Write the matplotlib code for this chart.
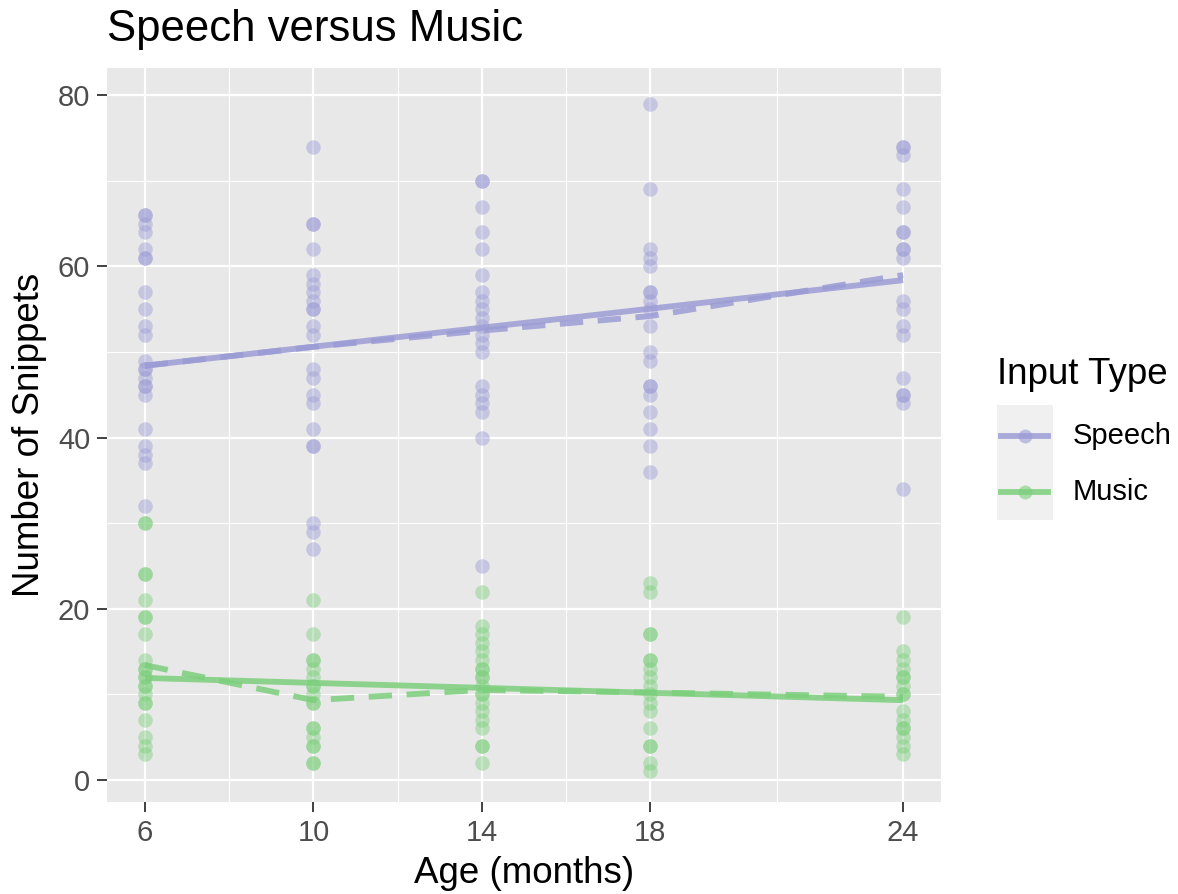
import numpy as np
import matplotlib
matplotlib.use("Agg")
import matplotlib.pyplot as plt
from matplotlib.lines import Line2D
from matplotlib.patches import Rectangle

plt.rcParams['font.family'] = ['Liberation Sans', 'DejaVu Sans']

ages = [6, 10, 14, 18, 24]

# points, one list per age
speech_6 = [66, 66, 65, 64, 62, 61, 61, 57, 55, 53, 52, 49, 48, 48, 47, 46, 46, 45, 41, 39, 38, 37, 32]
speech_10 = [74, 65, 65, 62, 59, 58, 57, 56, 55, 55, 53, 52, 48, 47, 45, 44, 41, 39, 39, 30, 29, 27]
speech_14 = [70, 70, 67, 64, 62, 59, 57, 56, 55, 54, 53, 52, 51, 50, 46, 45, 44, 43, 40, 25]
speech_18 = [79, 69, 62, 61, 60, 57, 57, 56, 55, 53, 50, 49, 46, 46, 45, 43, 41, 39, 36]
speech_24 = [74, 74, 73, 69, 67, 64, 64, 62, 62, 61, 56, 55, 53, 52, 47, 45, 45, 44, 34]

music_6 = [30, 30, 24, 24, 21, 19, 19, 17, 14, 13, 13, 12, 12, 11, 11, 10, 9, 9, 7, 5, 4, 3]
music_10 = [21, 17, 14, 14, 13, 12, 11, 11, 10, 9, 9, 6, 6, 5, 4, 4, 2, 2]
music_14 = [22, 18, 17, 16, 15, 14, 13, 13, 12, 12, 11, 10, 10, 9, 8, 7, 6, 4, 4, 2]
music_18 = [23, 22, 17, 17, 14, 14, 13, 12, 11, 10, 9, 8, 6, 4, 4, 2, 1]
music_24 = [19, 15, 14, 13, 12, 12, 11, 10, 10, 8, 7, 6, 6, 5, 4, 3]

# trend lines
speech_dashed = [48.4, 50.6, 52.5, 54.2, 59.0]
music_dashed = [13.4, 9.3, 10.5, 10.2, 9.7]
fit_ages = [6, 24]
speech_fit = [48.4, 58.4]
music_fit = [11.9, 9.3]

speech_col = '#9c9cd6'
music_col = '#7ccf7c'

fig = plt.figure(figsize=(11.78, 8.94), dpi=100)
ax = fig.add_axes([107/1178, 1 - 802/894, (941 - 107)/1178, (802 - 68)/894])
ax.set_facecolor('#e8e8e8')
for s in ax.spines.values():
    s.set_visible(False)

speech_pts = [speech_6, speech_10, speech_14, speech_18, speech_24]
music_pts = [music_6, music_10, music_14, music_18, music_24]
for a, sp, mu in zip(ages, speech_pts, music_pts):
    ax.scatter([a] * len(sp), sp, s=110, color=speech_col, alpha=0.45, linewidths=0, zorder=3)
    ax.scatter([a] * len(mu), mu, s=110, color=music_col, alpha=0.45, linewidths=0, zorder=3)

ax.plot(ages, speech_dashed, color=speech_col, lw=4.2, ls=(0, (4, 2.5)), alpha=0.85, zorder=4)
ax.plot(ages, music_dashed, color=music_col, lw=4.2, ls=(0, (4, 2.5)), alpha=0.85, zorder=4)
ax.plot(fit_ages, speech_fit, color=speech_col, lw=4.2, alpha=0.85, zorder=5, solid_capstyle='butt')
ax.plot(fit_ages, music_fit, color=music_col, lw=4.2, alpha=0.85, zorder=5, solid_capstyle='butt')

ax.set_xlim(5.1, 24.9)
ax.set_ylim(-2.6, 83.2)
ax.set_xticks(ages)
ax.set_xticks([8, 12, 16, 21], minor=True)
ax.set_yticks([0, 20, 40, 60, 80])
ax.set_yticks([10, 30, 50, 70], minor=True)
ax.grid(which='major', color='white', lw=1.6, zorder=0)
ax.grid(which='minor', color='white', lw=0.8, zorder=0)
ax.set_axisbelow(True)
ax.tick_params(which='major', length=7, width=1.3, color='#333333', labelsize=21,
               labelcolor='#4d4d4d', pad=5)
ax.tick_params(which='minor', length=0)

ax.set_xlabel('Age (months)', fontsize=26.5, labelpad=7)
ax.set_ylabel('Number of Snippets', fontsize=26.5, labelpad=8)
fig.text(107/1178, 1 - 30/894, 'Speech versus Music', fontsize=31.5, va='center', ha='left')

# legend
fig.text(997/1178, 1 - 374/894, 'Input Type', fontsize=26.5, va='center', ha='left')
fig.add_artist(Rectangle((997/1178, 1 - 520/894), 56/1178, 115/894, transform=fig.transFigure,
                         facecolor='#f0f0f0', edgecolor='none'))
for yk, col, lab in [(436, speech_col, 'Speech'), (492, music_col, 'Music')]:
    yf = 1 - yk/894
    fig.add_artist(Line2D([1001/1178, 1048/1178], [yf, yf], transform=fig.transFigure,
                          color=col, lw=4.2, alpha=0.85))
    fig.add_artist(Line2D([1024.5/1178], [yf], transform=fig.transFigure, marker='o',
                          markersize=10, color=col, alpha=0.6, markeredgewidth=0))
    fig.text(1073/1178, yf, lab, fontsize=21, va='center', ha='left')

fig.savefig('out.png', dpi=100)
